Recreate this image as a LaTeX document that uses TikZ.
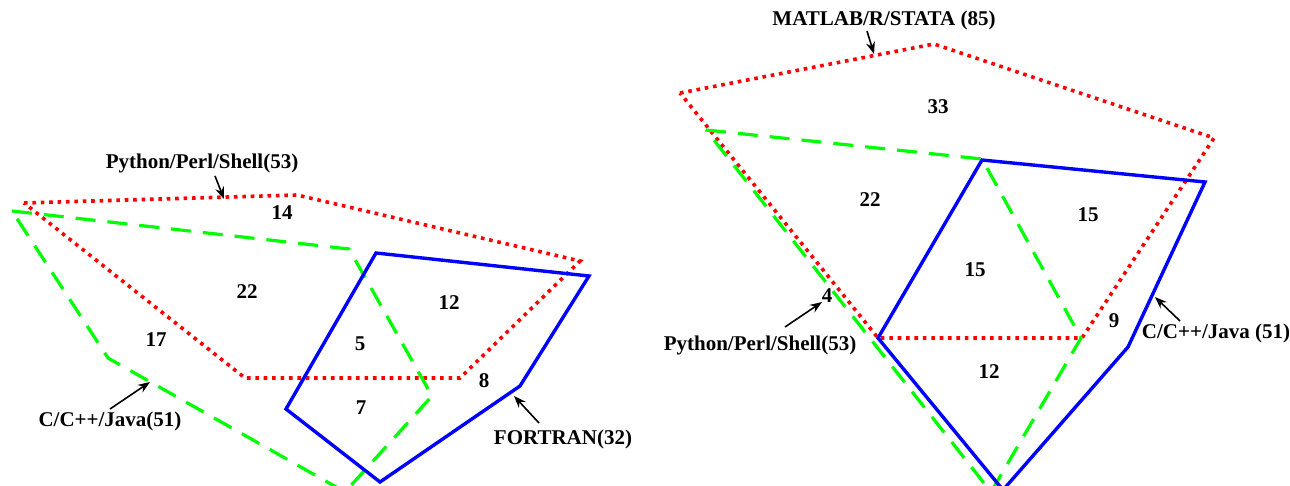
\documentclass[tikz,border=0pt]{standalone}
\usepackage{fontspec}
\setmainfont{Liberation Serif}
\usetikzlibrary{arrows.meta,positioning}

\begin{document}
\begin{tikzpicture}[x=0.5pt,y=-0.5pt,font=\fontsize{10.5}{12}\selectfont\bfseries]
    \tikzstyle{dotset}=[red, line width=1.8pt, dash pattern=on 1.8pt off 2.4pt]
    \tikzstyle{dashset}=[green, line width=1.6pt, dash pattern=on 10pt off 6pt]
    \tikzstyle{solidset}=[blue, line width=1.7pt]
    \tikzstyle{num}=[inner sep=0pt]
    \tikzstyle{ptr}=[-{Stealth[length=6pt,width=4.5pt]}, line width=0.8pt]

    \useasboundingbox (0,0) rectangle (1290,486);

    \coordinate (pa1) at (24,203);
    \coordinate (pa2) at (297,195);
    \coordinate (pa3) at (580,261);
    \coordinate (pa4) at (460,378);
    \coordinate (pa5) at (245,378);
    \coordinate (ca1) at (12,211);
    \coordinate (ca2) at (349,249);
    \coordinate (ca3) at (432,396);
    \coordinate (ca4) at (345,492);
    \coordinate (ca5) at (108,358);
    \coordinate (fa1) at (376,253);
    \coordinate (fa2) at (589,276);
    \coordinate (fa3) at (520,386);
    \coordinate (fa4) at (380,482);
    \coordinate (fa5) at (286,409);
    \draw[dotset] (pa1) -- (pa2) -- (pa3) -- (pa4) -- (pa5) -- cycle;
    \draw[dashset] (ca1) -- (ca2) -- (ca3) -- (ca4) -- (ca5) -- cycle;
    \draw[solidset] (fa1) -- (fa2) -- (fa3) -- (fa4) -- (fa5) -- cycle;

    \node[num] (l14) at (282,213) {14};
    \node[num] (l22) at (247,292) {22};
    \node[num] (l12) at (449,303) {12};
    \node[num] (l17) at (156,340) {17};
    \node[num] (l5)  at (360,344) {5};
    \node[num] (l7)  at (361,408) {7};
    \node[num] (l8)  at (484,381) {8};

    \node (pyl) at (202,163) {Python/Perl/Shell(53)};
    \node (cjl) at (110,421) {C/C++/Java(51)};
    \node (ftl) at (563,439) {FORTRAN(32)};
    \coordinate (pylt) at (215,176);
    \coordinate (pylh) at (224,199);
    \coordinate (cjlt) at (110,409);
    \coordinate (cjlh) at (150,382);
    \coordinate (ftlt) at (539,423);
    \coordinate (ftlh) at (514,396);
    \draw[ptr] (pylt) -- (pylh);
    \draw[ptr] (cjlt) -- (cjlh);
    \draw[ptr] (ftlt) -- (ftlh);

    \coordinate (mb1) at (680,93);
    \coordinate (mb2) at (934,44);
    \coordinate (mb3) at (1214,138);
    \coordinate (mb4) at (1082,338);
    \coordinate (mb5) at (878,338);
    \coordinate (pb1) at (706,130);
    \coordinate (pb2) at (982,159);
    \coordinate (pb3) at (1081,338);
    \coordinate (pb4) at (991,492);
    \coordinate (cb1) at (982,160);
    \coordinate (cb2) at (1205,182);
    \coordinate (cb3) at (1128,347);
    \coordinate (cb4) at (1003,490);
    \coordinate (cb5) at (878,338);
    \draw[dotset] (mb1) -- (mb2) -- (mb3) -- (mb4) -- (mb5) -- cycle;
    \draw[dashset] (pb1) -- (pb2) -- (pb3) -- (pb4) -- cycle;
    \draw[solidset] (cb1) -- (cb2) -- (cb3) -- (cb4) -- (cb5) -- cycle;

    \node[num] (r33) at (938,107) {33};
    \node[num] (r22) at (870,200) {22};
    \node[num] (r15a) at (1088,215) {15};
    \node[num] (r15b) at (975,270) {15};
    \node[num] (r4)  at (827,296) {4};
    \node[num] (r9)  at (1114,321) {9};
    \node[num] (r12) at (989,372) {12};

    \node (mtr) at (884,20) {MATLAB/R/STATA (85)};
    \node (pyr) at (760,345) {Python/Perl/Shell(53)};
    \node (cjr) at (1216,333) {C/C++/Java (51)};
    \coordinate (mtrt) at (867,31);
    \coordinate (mtrh) at (874,54);
    \coordinate (pyrt) at (785,327);
    \coordinate (pyrh) at (822,302);
    \coordinate (cjrt) at (1180,321);
    \coordinate (cjrh) at (1155,297);
    \draw[ptr] (mtrt) -- (mtrh);
    \draw[ptr] (pyrt) -- (pyrh);
    \draw[ptr] (cjrt) -- (cjrh);
\end{tikzpicture}
\end{document}
